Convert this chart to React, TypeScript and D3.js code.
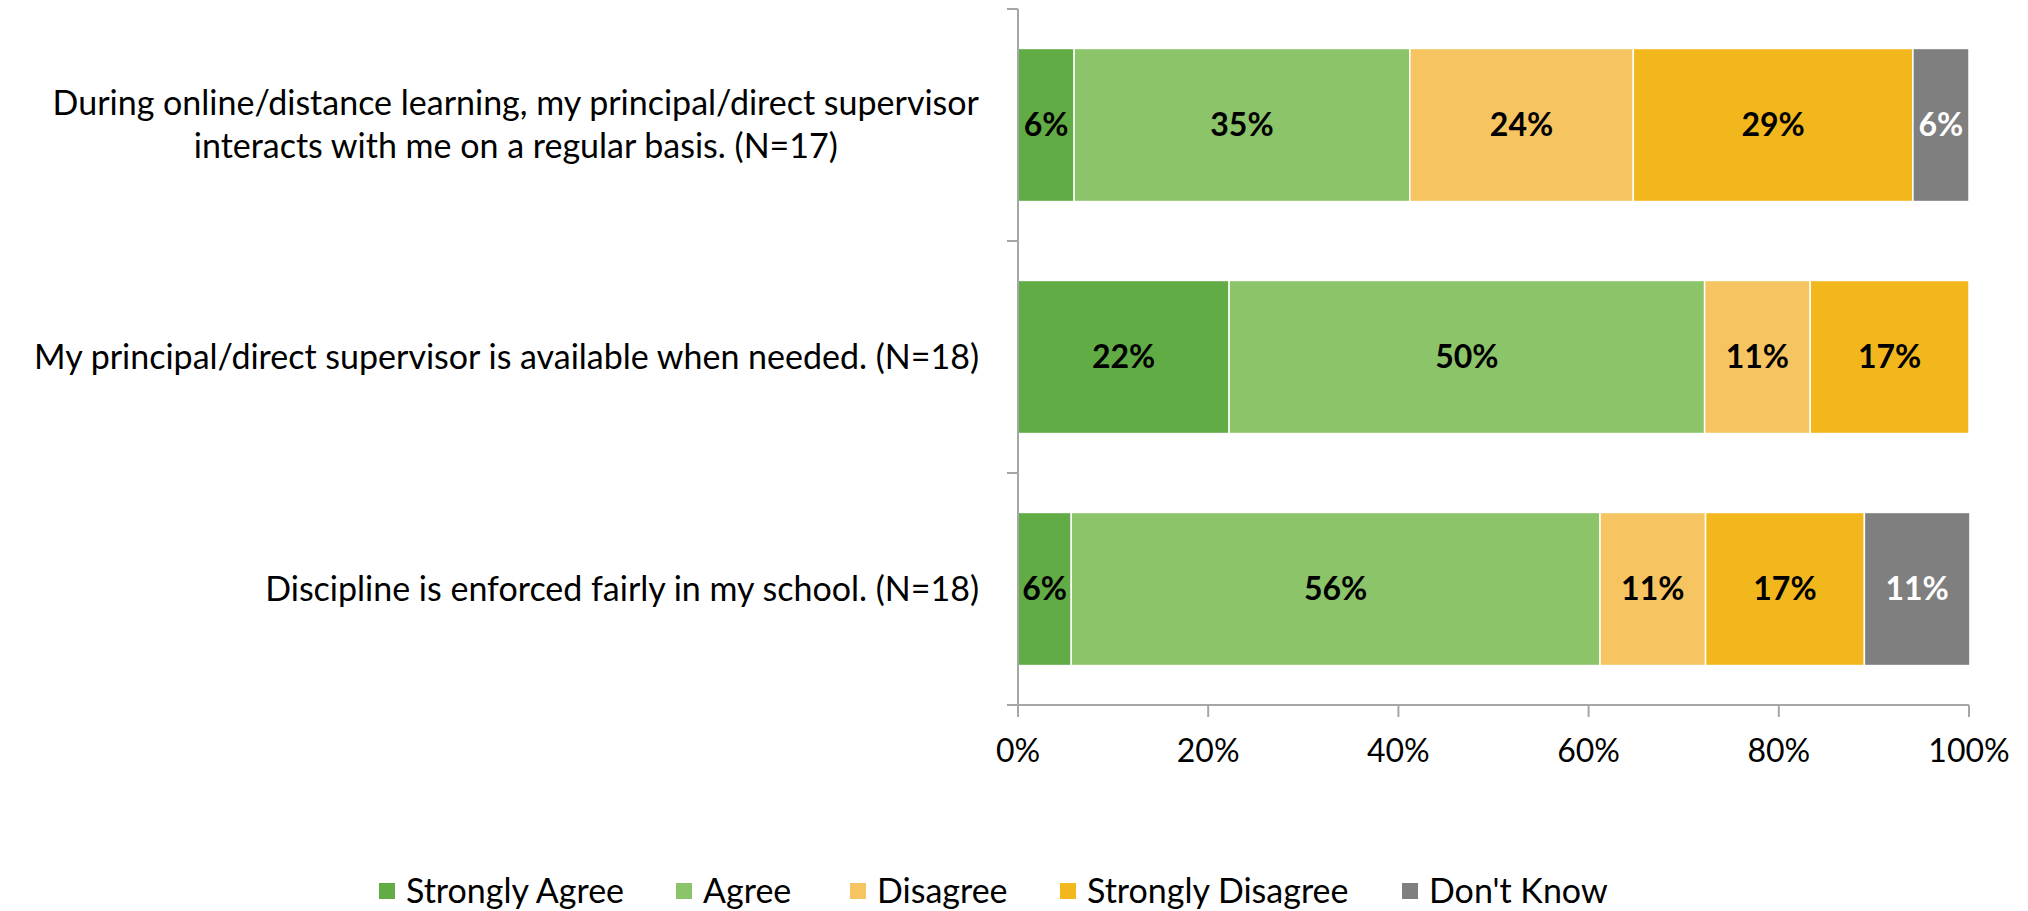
import React, { useLayoutEffect, useRef, useState } from "react";
import * as d3 from "d3";

const categories: string[][] = [
  ["During online/distance learning, my principal/direct supervisor", "interacts with me on a regular basis. (N=17)"],
  ["My principal/direct supervisor is available when needed. (N=18)"],
  ["Discipline is enforced fairly in my school. (N=18)"],
];
const seriesNames = ["Strongly Agree", "Agree", "Disagree", "Strongly Disagree", "Don't Know"];
const seriesColors = ["#62AC46", "#8CC469", "#F6C562", "#F3B71E", "#7F7F7F"];
const labelColors = ["#000", "#000", "#000", "#000", "#fff"];
const stronglyAgree = [5.9, 22.2, 5.6];
const agree = [35.3, 50.0, 55.6];
const disagree = [23.5, 11.1, 11.1];
const stronglyDisagree = [29.4, 16.7, 16.7];
const dontKnow = [5.9, 0, 11.1];
const xTicks = [0, 20, 40, 60, 80, 100];

const W = 2028;
const H = 911;
const FONT = "Lato, 'Open Sans', sans-serif";
const LABEL_RIGHT = 979;

function CategoryLabel({ lines, cy }: { lines: string[]; cy: number }) {
  const ref = useRef<SVGTextElement>(null);
  const [maxW, setMaxW] = useState(0);
  useLayoutEffect(() => {
    if (!ref.current) return;
    const spans = Array.from(ref.current.querySelectorAll("tspan")) as SVGTextContentElement[];
    const m = d3.max(spans, (s) => s.getComputedTextLength()) || 0;
    setMaxW(m);
  }, [lines]);
  const lh = 43;
  const start = cy - ((lines.length - 1) * lh) / 2;
  const cx = LABEL_RIGHT - maxW / 2;
  return (
    <text ref={ref} textAnchor="middle" fontFamily={FONT} fontSize={34} fill="#000">
      {lines.map((l, j) => (
        <tspan key={j} x={cx} y={start + j * lh} dy="0.35em">
          {l}
        </tspan>
      ))}
    </text>
  );
}

export default function App() {
  const series = [stronglyAgree, agree, disagree, stronglyDisagree, dontKnow];
  const x = d3.scaleLinear().domain([0, 100]).range([1018, 1969]);
  const y = d3.scaleBand<number>().domain([0, 1, 2]).range([9, 705]).paddingInner(0.34).paddingOuter(0.17);
  const band = (705 - 9) / 3;
  const rows = categories.map((_, i) => {
    let acc = 0;
    return series.map((s, k) => {
      const v = s[i];
      const x0 = acc;
      acc += v;
      return { k, v, x0, x1: acc };
    });
  });
  const axisColor = "#A6A6A6";
  const fmt = (v: number) => d3.format(".0f")(v) + "%";
  return (
    <svg width={W} height={H} style={{ position: "absolute", left: 0, top: 0, background: "#fff" }}>
      {rows.map((row, i) => (
        <g key={i}>
          {row.filter((d) => d.v > 0).map((d) => (
            <g key={d.k}>
              <rect
                x={x(d.x0)}
                y={y(i)}
                width={x(d.x1) - x(d.x0)}
                height={y.bandwidth()}
                fill={seriesColors[d.k]}
                stroke="#fff"
                strokeWidth={1.5}
              />
              <text
                x={(x(d.x0) + x(d.x1)) / 2}
                y={(y(i) as number) + y.bandwidth() / 2}
                dy="0.35em"
                textAnchor="middle"
                fontFamily={FONT}
                fontWeight="bold"
                fontSize={32}
                fill={labelColors[d.k]}
              >
                {fmt(d.v)}
              </text>
            </g>
          ))}
        </g>
      ))}
      <line x1={1018} x2={1018} y1={9} y2={705} stroke={axisColor} strokeWidth={2} />
      {[0, 1, 2, 3].map((j) => (
        <line key={j} x1={1007} x2={1018} y1={9 + j * band} y2={9 + j * band} stroke={axisColor} strokeWidth={2} />
      ))}
      <line x1={1007} x2={1969} y1={705} y2={705} stroke={axisColor} strokeWidth={2} />
      {xTicks.map((t) => (
        <g key={t}>
          <line x1={x(t)} x2={x(t)} y1={705} y2={717} stroke={axisColor} strokeWidth={2} />
          <text x={x(t)} y={762} textAnchor="middle" fontFamily={FONT} fontSize={32} fill="#000">
            {t + "%"}
          </text>
        </g>
      ))}
      {categories.map((lines, i) => (
        <CategoryLabel key={i} lines={lines} cy={(y(i) as number) + y.bandwidth() / 2} />
      ))}
      {seriesNames.map((n, k) => {
        const lx = [379, 676, 850, 1060, 1402][k];
        return (
          <g key={n}>
            <rect x={lx} y={883} width={16} height={16} fill={seriesColors[k]} />
            <text x={lx + 27} y={891} dy="0.35em" fontFamily={FONT} fontSize={34} fill="#000">
              {n}
            </text>
          </g>
        );
      })}
    </svg>
  );
}
